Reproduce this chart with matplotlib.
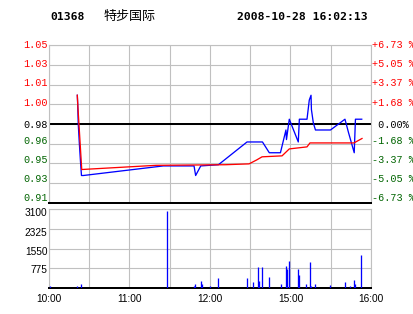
import numpy as np
import matplotlib
matplotlib.use("Agg")
import matplotlib.pyplot as plt

W, H = 414, 314

code = "01368"
name = "特步国际"
stamp = "2008-10-28 16:02:13"

prev_close = 0.98
rng = 0.0673
left_labels = ["1.05", "1.03", "1.01", "1.00", "0.98", "0.96", "0.95", "0.93", "0.91"]
right_labels = ["+6.73 %", "+5.05 %", "+3.37 %", "+1.68 %", " 0.00%", "-1.68 %", "-3.37 %", "-5.05 %", "-6.73 %"]

# minutes of trading since 10:00 (lunch break removed)
price_t = [21.1, 21.4, 21.8, 22.6, 23.5, 24.2, 25.6, 85.2, 108.1, 109.3, 113.1, 126.3,
           147.6, 159.1, 164.2, 172.5, 176.6, 177.0, 179.1, 185.8, 186.6, 192.3, 194.0,
           195.3, 195.6, 197.0, 198.6, 209.8, 220.6, 223.2, 227.5, 228.4, 233.1]
price_p = [1.004, 0.996, 0.980, 0.964, 0.948, 0.937, 0.937, 0.945, 0.945, 0.937, 0.945, 0.946,
           0.965, 0.965, 0.956, 0.956, 0.975, 0.967, 0.984, 0.965, 0.984, 0.984, 1.000,
           1.004, 0.992, 0.981, 0.975, 0.975, 0.984, 0.973, 0.956, 0.984, 0.984]

avg_t = [21.1, 21.5, 24.4, 79.8, 131.2, 149.1, 154.8, 158.8, 173.7, 179.1, 192.3, 194.5, 227.3, 233.3]
avg_p = [1.004, 0.995, 0.942, 0.9455, 0.946, 0.9467, 0.950, 0.9526, 0.9534, 0.9592, 0.9609,
         0.9642, 0.9642, 0.9679]

vol_t = [1.0, 21.1, 23.9, 88.2, 108.3, 109.0, 113.5, 114.3, 120.2, 126.2, 147.8, 152.3, 156.0,
         156.8, 159.0, 164.2, 173.1, 176.9, 177.6, 179.1, 185.8, 186.6, 191.8, 194.8, 195.5,
         198.5, 209.7, 220.8, 224.6, 227.6, 228.3, 232.8]
vol_v = [78, 78, 157, 3022, 78, 157, 275, 157, 78, 392, 392, 235, 824, 275, 824, 432, 157, 863,
         746, 1060, 746, 510, 157, 1020, 78, 157, 118, 235, 78, 314, 157, 1295]
vol_ticks = [3100, 2325, 1550, 775]

time_ticks = [0, 60, 120, 180, 240]
time_labels = ["10:00", "11:00", "12:00", "15:00", "16:00"]

grid_c = "#c0c0c0"
red = "#ff0000"
blue = "#0000ff"
green = "#006400"
px = 0.72

# label centres in pixels (the chart nudges the lower labels upward)
price_lab_y = [45.3, 64.3, 83.3, 102.5, 124.7, 141.3, 160, 179, 198]
vol_lab_y = [213, 232.5, 252, 270]

def box(l, t, r, b):
    return [l / W, 1 - b / H, (r - l) / W, (b - t) / H]

def style(a):
    a.set_xlim(0, 240)
    a.set_xticks(np.arange(0, 241, 30))
    a.set_xticklabels([])
    a.set_yticklabels([])
    a.tick_params(length=0)
    a.grid(True, color=grid_c, lw=px * 1.1)
    a.set_axisbelow(True)
    for s in ["left", "top", "right"]:
        a.spines[s].set_color(grid_c)
        a.spines[s].set_linewidth(px * 1.1)
    a.spines["bottom"].set_color("black")
    a.spines["bottom"].set_linewidth(px * 2)

fig = plt.figure(figsize=(W / 100, H / 100), dpi=100)
fig.patch.set_facecolor("white")

# ---------------- price panel ----------------
ax = fig.add_axes(box(49, 45, 371, 203))
lo, hi = prev_close * (1 - rng), prev_close * (1 + rng)
ax.set_ylim(lo, hi)
ax.set_yticks(np.linspace(lo, hi, 9))
style(ax)
ax.axhline(prev_close, color="black", lw=px * 2, zorder=2)

ax.plot(price_t, price_p, color=blue, lw=px * 1.3, zorder=3)
ax.plot(avg_t, avg_p, color=red, lw=px * 1.3, zorder=4)

for i, (y, lab, rlab) in enumerate(zip(price_lab_y, left_labels, right_labels)):
    c = red if i < 4 else ("black" if i == 4 else green)
    fig.text(47.8 / W, 1 - y / H, lab, ha="right", va="center",
             color=c, family="Liberation Mono", fontsize=7.3)
    fig.text(372 / W, 1 - y / H, rlab, ha="left", va="center",
             color=c, family="Liberation Mono", fontsize=7.3)

# ---------------- volume panel ----------------
av = fig.add_axes(box(49, 209, 371, 288))
av.set_ylim(0, 3100)
av.set_yticks(vol_ticks)
style(av)
av.vlines(vol_t, 0, vol_v, color=blue, lw=px * 1.3, zorder=3)

for y, v in zip(vol_lab_y, vol_ticks):
    fig.text(47.5 / W, 1 - y / H, str(v), ha="right", va="center",
             family="Liberation Sans", fontsize=7.3)
for t, lab in zip(time_ticks, time_labels):
    fig.text((49 + t * 322 / 240) / W, 1 - 298.5 / H, lab, ha="center", va="center",
             family="Liberation Sans", fontsize=7.3)

# ---------------- header ----------------
fig.text(50 / W, 1 - 17 / H, code, ha="left", va="center", family="DejaVu Sans Mono",
         weight="bold", fontsize=8.2)
fig.text(104 / W, 1 - 16 / H, name, ha="left", va="center", family="Noto Sans CJK SC",
         fontsize=9.4)
fig.text(237.5 / W, 1 - 17 / H, stamp, ha="left", va="center", family="DejaVu Sans Mono",
         weight="bold", fontsize=8.2)

fig.savefig("out.png", dpi=100)
